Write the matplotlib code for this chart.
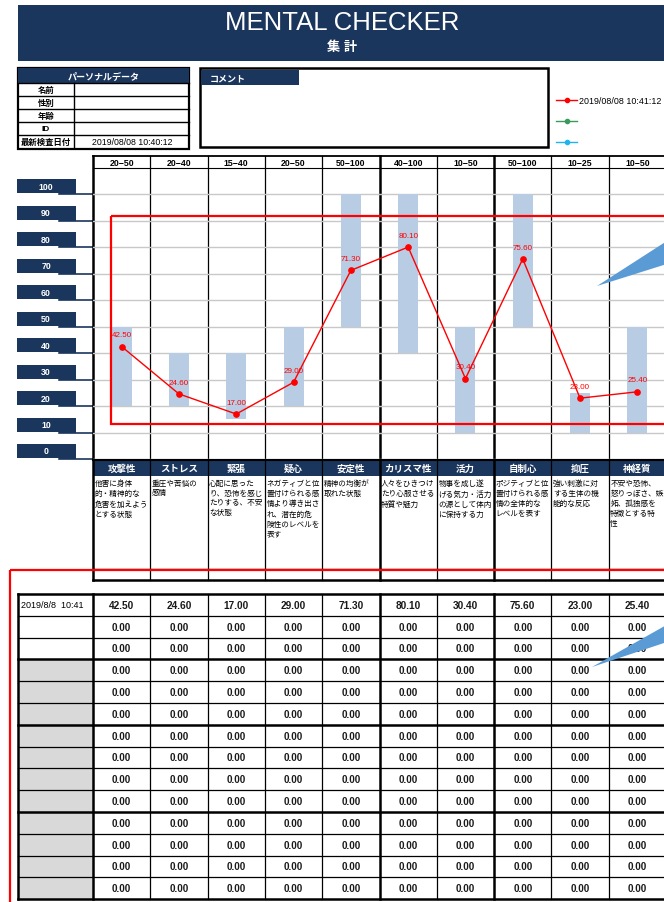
import matplotlib
matplotlib.use('Agg')
import matplotlib.pyplot as plt
from matplotlib.patches import Rectangle, Polygon
from matplotlib.lines import Line2D

plt.rcParams['font.family'] = ['Liberation Sans', 'Noto Sans CJK JP', 'DejaVu Sans']

# ---- data ----
categories = ['攻撃性', 'ストレス', '緊張', '疑心', '安定性', 'カリスマ性', '活力', '自制心', '抑圧', '神経質']
range_lo = [20, 20, 15, 20, 50, 40, 10, 50, 10, 10]
range_hi = [50, 40, 40, 50, 100, 100, 50, 100, 25, 50]
scores = [42.50, 24.60, 17.00, 29.00, 71.30, 80.10, 30.40, 75.60, 23.00, 25.40]
descriptions = [
    '他害に身体\n的・精神的な\n危害を加えよう\nとする状態',
    '重圧や苦悩の\n感情',
    '心配に思った\nり、恐怖を感じ\nたりする、不安\nな状態',
    'ネガティブと位\n置付けられる感\n情より導き出さ\nれ、潜在的危\n険性のレベルを\n表す',
    '精神の均衡が\n取れた状態',
    '人々をひきつけ\nたり心服させる\n特質や魅力',
    '物事を成し遂\nげる気力・活力\nの源として体内\nに保持する力',
    'ポジティブと位\n置付けられる感\n情の全体的な\nレベルを表す',
    '強い刺激に対\nする生体の機\n能的な反応',
    '不安や恐怖、\n怒りっぽさ、嫉\n妬、孤独感を\n特徴とする特\n性',
]
y_ticks = [0, 10, 20, 30, 40, 50, 60, 70, 80, 90, 100]
personal_fields = ['名前', '性別', '年齢', 'ID', '最新検査日付']
check_date = '2019/08/08 10:40:12'
legend_labels = ['2019/08/08 10:41:12', '', '']
legend_colors = ['#ff0000', '#3a9a5b', '#1fb4ef']
latest_date = '2019/8/8  10:41'
past_scores = [
    [0.00, 0.00, 0.00, 0.00, 0.00, 0.00, 0.00, 0.00, 0.00, 0.00],
    [0.00, 0.00, 0.00, 0.00, 0.00, 0.00, 0.00, 0.00, 0.00, 0.00],
    [0.00, 0.00, 0.00, 0.00, 0.00, 0.00, 0.00, 0.00, 0.00, 0.00],
    [0.00, 0.00, 0.00, 0.00, 0.00, 0.00, 0.00, 0.00, 0.00, 0.00],
    [0.00, 0.00, 0.00, 0.00, 0.00, 0.00, 0.00, 0.00, 0.00, 0.00],
    [0.00, 0.00, 0.00, 0.00, 0.00, 0.00, 0.00, 0.00, 0.00, 0.00],
    [0.00, 0.00, 0.00, 0.00, 0.00, 0.00, 0.00, 0.00, 0.00, 0.00],
    [0.00, 0.00, 0.00, 0.00, 0.00, 0.00, 0.00, 0.00, 0.00, 0.00],
    [0.00, 0.00, 0.00, 0.00, 0.00, 0.00, 0.00, 0.00, 0.00, 0.00],
    [0.00, 0.00, 0.00, 0.00, 0.00, 0.00, 0.00, 0.00, 0.00, 0.00],
    [0.00, 0.00, 0.00, 0.00, 0.00, 0.00, 0.00, 0.00, 0.00, 0.00],
    [0.00, 0.00, 0.00, 0.00, 0.00, 0.00, 0.00, 0.00, 0.00, 0.00],
    [0.00, 0.00, 0.00, 0.00, 0.00, 0.00, 0.00, 0.00, 0.00, 0.00],
]

W, H = 664, 903
NAVY = '#1b365d'
RED = '#ff0000'
BAR = '#b8cce4'

fig = plt.figure(figsize=(W / 100, H / 100), dpi=100)
bg = fig.add_axes([0, 0, 1, 1])
bg.set_xlim(0, W)
bg.set_ylim(H, 0)
bg.axis('off')

# chart area (pixel box of the plot)
cl, cr, ct, cb = 93, 666, 169, 460
ax = fig.add_axes([cl / W, 1 - cb / H, (cr - cl) / W, (cb - ct) / H])
ax.set_facecolor('none')
ax.set_xlim(-0.5, len(categories) - 0.5)
ax.set_ylim(0, 110)
for s in ax.spines.values():
    s.set_visible(False)
ax.set_xticks([])
ax.set_yticks(y_ticks)
ax.tick_params(left=False, labelleft=False)
ax.yaxis.grid(True, color='#c8c8c8', lw=1.0)
ax.set_axisbelow(True)

top = fig.add_axes([0, 0, 1, 1])
top.set_facecolor('none')
top.set_xlim(0, W)
top.set_ylim(H, 0)
top.axis('off')


def px(x, y):
    return bg.transData.inverted().transform(ax.transData.transform((x, y)))


n = len(categories)
idx = list(range(n))
edges = [px(i - 0.5, 0)[0] for i in range(n + 1)]
centers = [px(i, 0)[0] for i in idx]
thick = {0, 5, 7}

# ---- banner ----
bg.add_patch(Rectangle((18, 6), 660, 56, color=NAVY, lw=0))
bg.text(342, 23, 'MENTAL CHECKER', color='white', fontsize=18.5, ha='center', va='center')
bg.text(342, 48, '集 計', color='white', fontsize=9.5, fontweight='bold', ha='center', va='center')

# ---- personal data ----
bg.add_patch(Rectangle((18, 69), 171, 81, fill=False, ec='black', lw=1.6))
bg.add_patch(Rectangle((18, 69), 171, 15, color=NAVY, lw=0))
bg.text(104, 77, 'パーソナルデータ', color='white', fontsize=6.5, fontweight='bold', ha='center', va='center')
row_y = [84, 97, 110, 123, 136, 149]
for k, name in enumerate(personal_fields):
    bg.plot([18, 189], [row_y[k], row_y[k]], color='black', lw=1.0)
    bg.text(46, (row_y[k] + row_y[k + 1]) / 2, name, fontsize=6, fontweight='bold', ha='center', va='center')
bg.plot([74, 74], [84, 149], color='black', lw=1.0)
bg.text(132, 142.5, check_date, fontsize=6.3, ha='center', va='center')

# ---- comment ----
bg.add_patch(Rectangle((200, 69), 348, 79, fill=False, ec='black', lw=1.8))
bg.add_patch(Rectangle((201, 71), 98, 15, color=NAVY, lw=0))
bg.text(210, 78.5, 'コメント', color='white', fontsize=6.5, fontweight='bold', ha='left', va='center')

# ---- legend ----
for k, (lab, col) in enumerate(zip(legend_labels, legend_colors)):
    ly = 101 + 21 * k
    bg.add_line(Line2D([556, 577], [ly, ly], color=col, lw=1))
    bg.plot([567], [ly], marker='o', ms=3, color=col)
    bg.text(579, ly, lab, fontsize=6.4, ha='left', va='center')

# ---- chart frame ----
bg.plot([93, 666], [157, 157], color='black', lw=1.3)
bg.plot([93, 666], [169, 169], color='black', lw=0.8)
for i in idx:
    bg.text(centers[i], 163.5, f'{range_lo[i]}−{range_hi[i]}', fontsize=6.3,
            fontweight='bold', ha='center', va='center')

# y tabs
for v in y_ticks:
    gy = px(0, v)[1]
    bg.add_patch(Rectangle((17, gy - 15), 59, 14, color=NAVY, lw=0))
    bg.add_patch(Rectangle((59, gy - 4), 17, 4, color=NAVY, lw=0))
    bg.plot([59, 93], [gy, gy], color=NAVY, lw=1.2)
    bg.text(46, gy - 8, str(v), color='white', fontsize=6.3, fontweight='bold', ha='center', va='center')

# bars and line
ax.bar(idx, [h - l for h, l in zip(range_hi, range_lo)], bottom=range_lo,
       width=0.35, color=BAR, zorder=2)
ax.plot(idx, scores, color=RED, lw=1, marker='o', ms=3.8, zorder=4)
for i, v in zip(idx, scores):
    ax.annotate(f'{v:.2f}', (i, v), xytext=(0, 8.5), textcoords='offset points',
                ha='center', va='center', fontsize=5.8, color=RED, zorder=5)

# category header + descriptions
bg.plot([93, 666], [460.5, 460.5], color='black', lw=1.5)
bg.add_patch(Rectangle((93, 462), 573, 15, color=NAVY, lw=0))
for i in idx:
    bg.text(centers[i], 469.5, categories[i], color='white', fontsize=6.8,
            fontweight='bold', ha='center', va='center')
    bg.text(edges[i] + 1.5, 480.5, descriptions[i], fontsize=5.5, ha='left', va='top',
            linespacing=1.5)
bg.plot([93, 666], [570, 570], color='black', lw=1.0)
bg.plot([93, 666], [581, 581], color='black', lw=1.8)

for i, x in enumerate(edges):
    bg.plot([x, x], [157, 581], color='black', lw=1.8 if i in thick else 0.9)

# ---- data table ----
t0, rh = 595, 21.8
nrows = 1 + len(past_scores)
ty = [t0 + rh * k for k in range(nrows + 1)]
for k in range(3, nrows):
    bg.add_patch(Rectangle((18, ty[k]), 75, rh, color='#d9d9d9', lw=0))
for k, y in enumerate(ty):
    bg.plot([18, 666], [y, y], color='black', lw=1.8 if k in (0, 3, 6, 10, nrows) else 0.9)
bg.plot([18, 18], [t0, ty[-1]], color='black', lw=1.8)
for i, x in enumerate(edges):
    bg.plot([x, x], [t0, ty[-1]], color='black', lw=1.8 if i in thick else 0.9)

bg.text(21, ty[0] + rh / 2, latest_date, fontsize=6.5, ha='left', va='center')
for i in idx:
    bg.text(centers[i], ty[0] + rh / 2, f'{scores[i]:.2f}', fontsize=7.3,
            fontweight='bold', ha='center', va='center', color='#1a1a1a')
for r, row in enumerate(past_scores):
    for i in idx:
        bg.text(centers[i], ty[r + 1] + rh / 2, f'{row[i]:.2f}', fontsize=7.1,
                fontweight='bold', ha='center', va='center', color='#1a1a1a')

# ---- red highlight frames and callouts ----
top.add_patch(Rectangle((111, 217), 600, 208, fill=False, ec=RED, lw=1.6))
top.add_patch(Rectangle((10, 571), 700, 400, fill=False, ec=RED, lw=1.6))
top.add_patch(Polygon([(597, 287), (670, 240), (670, 264)], color='#5b9bd5', lw=0))
top.add_patch(Polygon([(592, 668), (670, 624), (670, 642)], color='#5b9bd5', lw=0))

fig.savefig('out.png', dpi=100)
